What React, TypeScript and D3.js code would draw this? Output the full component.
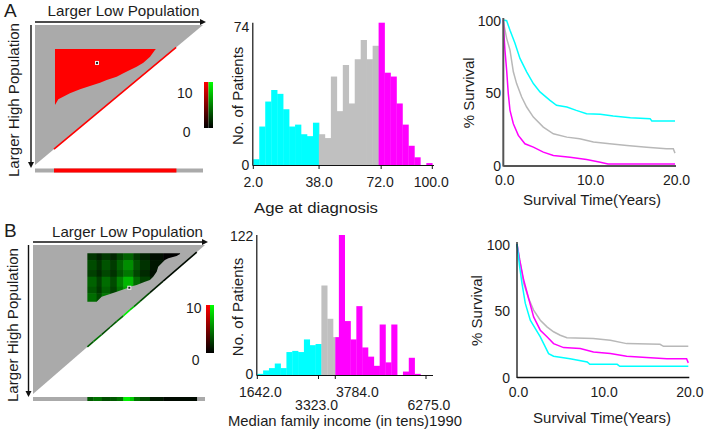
import React from 'react';
import * as d3 from 'd3';

// ---------------- DATA ----------------
const ageBinCounts = [3, 20, 33, 39, 37, 29, 20, 21, 16, 15, 22, 16, 14, 46, 28, 52, 32, 55, 65, 55, 62, 74, 48, 46, 32, 21, 10, 4, 0, 1];
const ageDomain: [number, number] = [2, 100];
const ageBinWidth = 98 / 30;
const ageColorCuts = [37.93, 70.6];
const ageTicks = [2, 38, 72, 100];
const ageTickLabels = ['2.0', '38.0', '72.0', '100.0'];
const ageYMax = 74;

const incomeBinCounts = [1, 4, 6, 10, 6, 20, 21, 20, 31, 26, 27, 78, 49, 33, 122, 47, 31, 60, 24, 16, 8, 44, 11, 44, 0, 3, 15, 1];
const incomeDomain: [number, number] = [1642, 6275];
const incomeBinWidth = 160;
const incomeColorCuts = [3402, 3784];
const incomeTicks = [1642, 3323, 3784, 6275];
const incomeTickLabels = ['1642.0', '3323.0', '3784.0', '6275.0'];
const incomeYMax = 122;

const survAgeCyan = [[0, 100], [0.39, 99.5], [0.78, 93], [1.36, 84], [1.94, 73.6], [2.72, 64.4], [3.5, 56.3], [4.27, 50.6], [5.44, 44.8], [6.2, 41.4], [7.4, 40.2], [8.5, 37.9], [9.7, 35.6], [11.3, 35.2], [12.8, 34], [14.8, 32.9], [17.1, 32.2], [17.3, 30.6], [20, 30.6]];
const survAgeGray = [[0, 100], [0.1, 96], [0.39, 87.4], [0.78, 79.3], [1.17, 64.4], [1.55, 56.3], [2.14, 47.1], [2.72, 40.2], [3.5, 33.3], [4.66, 26.4], [5.83, 21.8], [7.4, 19.5], [8.9, 18.4], [10.5, 16.1], [12.4, 14.9], [14.4, 13.8], [16.7, 12.6], [19.0, 11.5], [19.8, 11.5], [20, 8.5]];
const survAgeMag = [[0, 100], [0.1, 88], [0.19, 79.3], [0.39, 65.5], [0.58, 49.4], [0.78, 37.9], [1.17, 28.7], [1.75, 20.7], [2.52, 14.9], [3.5, 12.6], [4.66, 9.2], [5.83, 6.9], [7.77, 5.7], [9.7, 4.1], [11.3, 2.3], [12.2, 1.1], [20, 1.1]];

const survIncGray = [[0, 100], [0.39, 85.4], [0.78, 70.4], [1.36, 59], [1.94, 50.3], [2.72, 42.7], [3.5, 37.7], [4.27, 34], [5.05, 31.4], [5.83, 29.6], [8.9, 28.9], [10.9, 27.6], [12.8, 25.1], [16.7, 24.6], [17.1, 23.1], [20, 23.1]];
const survIncMag = [[0, 100], [0.31, 88], [0.78, 72.9], [1.36, 59], [1.94, 45.2], [2.72, 35.2], [3.5, 30.2], [4.27, 25.1], [5.44, 22.1], [7.38, 21.4], [8.93, 18.8], [10.9, 17.6], [12.8, 15.6], [15.1, 14.6], [17.5, 13.8], [19.8, 13.8], [20, 10.6]];
const survIncCyan = [[0, 100], [0.31, 82.9], [0.58, 70.4], [0.97, 55.3], [1.55, 42.7], [2.14, 36.4], [2.72, 30.2], [3.3, 22.6], [3.69, 17.6], [4.27, 15.6], [6.2, 13.8], [8.2, 11.3], [8.5, 9.5], [11.7, 9.5], [12.0, 8.0], [20, 8.0]];

const survTicksX = [0, 10, 20];
const survTickLabelsX = ['0.0', '10.0', '20.0'];
const survTicksY = [0, 50, 100];

// heatmap A: significant region (grid units 0..100)
const heatARegion = [[11.9, 17.1], [72.0, 17.1], [71.4, 17.9], [68.5, 22.6], [64.5, 26.9], [60.5, 29.8], [56.5, 32.1], [52.6, 34.5], [48.6, 36.9], [42.7, 39.3], [38.7, 41.2], [32.7, 43.6], [26.8, 45.9], [20.8, 48.8], [13.9, 53.1], [11.9, 57.1]];
const heatAStrip = [[11.3, 84, 1]]; // [from, to, value]
const heatADot = [36.9, 27.1];

// heatmap B
const heatBRegion = [[31.6, 5.6], [85.5, 5.6], [85.5, 6.0], [83.5, 7.4], [78.7, 8.9], [76.7, 10.1], [74.8, 12.3], [72.8, 14.6], [71.9, 17.9], [69.9, 21.3], [68.0, 23.5], [65.1, 24.6], [60.3, 26.8], [56.4, 28.0], [54.5, 29.1], [48.7, 31.3], [44.8, 32.9], [39.9, 34.7], [37.0, 38.1], [31.6, 38.1]];
const heatBColEdges = [31.6, 37.0, 39.9, 44.8, 48.7, 52.5, 58.3, 62.2, 68.0, 75.7, 85.5];
const heatBColValues = [0.45, 0.3, 0.5, 0.35, 0.6, 0.85, 0.5, 0.3, 0.12, 0.05];
const heatBRowEdges = [5.6, 10.1, 16.8, 21.3, 28.0, 32.4, 38.1];
const heatBRowValues = [0.45, 0.65, 0.55, 0.85, 0.75, 0.95];
const heatBStrip = [[31.6, 35.1, 0.35], [35.1, 39.9, 0.45], [39.9, 44.8, 0.3], [44.8, 48.7, 0.35], [48.7, 52.5, 0.45], [52.5, 56.4, 0.95], [56.4, 58.7, 0.8], [58.7, 62.2, 0.45], [62.2, 68.0, 0.3], [68.0, 75.7, 0.1], [75.7, 95.2, 0.04]];
const heatBDot = [56, 28.7];

// ---------------- STYLE ----------------
const FONT = "'Liberation Sans', Arial, Helvetica, sans-serif";
const TXT = '#1c1c1c';
const CYAN = '#00ffff';
const MAG = '#ff00ff';
const GRAYBAR = '#c0c0c0';
const GRAYLINE = '#b8b8b8';
const TRI = '#aaaaaa';
const groupColors = [CYAN, GRAYBAR, MAG];

type TP = { x: number; y: number; s?: number; a?: string; len?: number; rot?: boolean; children: any; fill?: string };
const T = ({ x, y, s = 14, a = 'start', len, rot = false, children, fill = TXT }: TP) => (
  <text
    x={rot ? 0 : x}
    y={rot ? 0 : y}
    transform={rot ? `translate(${x},${y}) rotate(-90)` : undefined}
    fontSize={s}
    textAnchor={a as any}
    fill={fill}
    fontFamily={FONT}
    {...(len ? { textLength: len, lengthAdjust: 'spacingAndGlyphs' } : {})}
  >
    {children}
  </text>
);

// ---------------- HEATMAP PANEL ----------------
function Heatmap(props: any) {
  const { id, box, arrowY, arrowX, stripY, region, plaid, strip, stripColor, dot, bar, lab, letter, titleX, titleY, titleLen, sideX, sideY } = props;
  const xg = d3.scaleLinear().domain([0, 100]).range([box.x0, box.x1]);
  const yg = d3.scaleLinear().domain([0, 100]).range([box.y0, box.y1]);
  const poly = d3.line().x((d: any) => xg(d[0])).y((d: any) => yg(d[1]))(region as any) + 'Z';
  const green = d3.interpolateRgb('#000000', '#00ff00');
  return (
    <g>
      <defs>
        <clipPath id={`clip${id}`}>
          <path d={poly} />
        </clipPath>
        <filter id={`blur${id}`} x="-10%" y="-10%" width="120%" height="120%">
          <feGaussianBlur stdDeviation="0.7" />
        </filter>
      </defs>
      <T x={4} y={letter.y} s={19}>{letter.t}</T>
      <T x={titleX} y={titleY} s={15} a="middle" len={titleLen}>Larger Low Population</T>
      <T x={sideX} y={sideY} s={15} a="middle" rot len={154}>Larger High Population</T>
      {/* arrows */}
      <line x1={box.x0} x2={box.x1 + 1} y1={arrowY} y2={arrowY} stroke="#111" strokeWidth={1.4} />
      <path d={`M${box.x1 + 3},${arrowY} l-6,-3 l0,6 Z`} fill="#111" />
      <line x1={arrowX} x2={arrowX} y1={box.y0} y2={box.y1 + 1} stroke="#111" strokeWidth={1.4} />
      <path d={`M${arrowX},${box.y1 + 3} l-3,-6 l6,0 Z`} fill="#111" />
      {/* triangle */}
      <path d={`M${box.x0},${box.y0}L${box.x1},${box.y0}L${box.x0},${box.y1}Z`} fill={TRI} />
      {plaid ? (
        <g clipPath={`url(#clip${id})`}>
          <g filter={`url(#blur${id})`}>
            {plaid.cols.slice(0, -1).map((c0: number, i: number) =>
              plaid.rows.slice(0, -1).map((r0: number, j: number) => {
                const c1 = plaid.cols[i + 1];
                const r1 = plaid.rows[j + 1];
                const cx0 = i === 0 ? c0 - 4 : c0;
                const cx1 = i === plaid.cols.length - 2 ? c1 + 4 : c1;
                const ry0 = j === 0 ? r0 - 4 : r0;
                const ry1 = j === plaid.rows.length - 2 ? r1 + 4 : r1;
                return (
                  <rect key={`${i}-${j}`} x={xg(cx0)} y={yg(ry0)} width={xg(cx1) - xg(cx0) + 0.5} height={yg(ry1) - yg(ry0) + 0.5}
                    fill={green(plaid.cv[i] * plaid.rv[j])} />
                );
              })
            )}
          </g>
        </g>
      ) : (
        <path d={poly} fill="#ff0000" />
      )}
      {/* diagonal */}
      {strip.map((s: number[], i: number) => (
        <line key={i} x1={xg(s[0])} y1={yg(100 - s[0])} x2={xg(s[1])} y2={yg(100 - s[1])}
          stroke={stripColor(s[2])} strokeWidth={1.6} />
      ))}
      {/* dot */}
      <rect x={xg(dot[0]) - 2} y={yg(dot[1]) - 2} width={4} height={4} fill="#eeeeee" />
      <rect x={xg(dot[0]) - 1} y={yg(dot[1]) - 1} width={2} height={2} fill="#222" />
      {/* strip */}
      <rect x={box.x0} y={stripY} width={box.x1 - box.x0} height={4} fill={TRI} />
      {strip.map((s: number[], i: number) => (
        <rect key={i} x={xg(s[0])} y={stripY} width={xg(s[1]) - xg(s[0]) + 0.3} height={4} fill={stripColor(s[2])} />
      ))}
      {/* colorbar */}
      <rect x={bar.x} y={bar.y} width={bar.w / 2} height={bar.h} fill={`url(#gRed)`} />
      <rect x={bar.x + bar.w / 2} y={bar.y} width={bar.w / 2} height={bar.h} fill={`url(#gGreen)`} />
      <T x={lab.x} y={lab.y10} s={14} a="end">10</T>
      <T x={lab.x - 2} y={lab.y0} s={14} a="end">0</T>
    </g>
  );
}

// ---------------- HISTOGRAM ----------------
function Histogram(props: any) {
  const { counts, domain, binWidth, cuts, yMax, xr, yr, ticks, tickLabels, labelPos, yLabY, title, titleX, titleY, titleLen, axisEnd } = props;
  const xs = d3.scaleLinear().domain(domain).range(xr);
  const ys = d3.scaleLinear().domain([0, yMax]).range(yr);
  const bounds = [domain[0], ...cuts, Infinity];
  const rects: any[] = [];
  counts.forEach((c: number, i: number) => {
    const a = domain[0] + i * binWidth;
    const b = a + binWidth;
    for (let g = 0; g < 3; g++) {
      const lo = Math.max(a, bounds[g]);
      const hi = Math.min(b, bounds[g + 1]);
      if (hi > lo && c > 0) {
        rects.push(<rect key={`${i}-${g}`} x={xs(lo)} y={ys(c)} width={xs(hi) - xs(lo) + 0.3} height={ys(0) - ys(c)} fill={groupColors[g]} />);
      }
    }
  });
  return (
    <g>
      {rects}
      <line x1={xr[0] - 0.5} x2={xr[0] - 0.5} y1={yr[1]} y2={yr[0] + 0.5} stroke="#111" strokeWidth={1.2} />
      <line x1={xr[0] - 0.5} x2={axisEnd} y1={yr[0] + 0.5} y2={yr[0] + 0.5} stroke="#111" strokeWidth={1.2} />
      {ticks.map((t: number, i: number) => (
        <line key={i} x1={xs(t)} x2={xs(t)} y1={yr[0]} y2={yr[0] + 4} stroke="#111" strokeWidth={1} />
      ))}
      {ticks.map((t: number, i: number) => (
        <T key={i} x={xs(t) + labelPos[i][0]} y={labelPos[i][1]} s={14} a="middle">{tickLabels[i]}</T>
      ))}
      <T x={xr[0] - 4} y={yLabY[0]} s={14} a="end">{String(yMax)}</T>
      <T x={xr[0] - 4} y={yLabY[1]} s={14} a="end">0</T>
      <T x={243} y={(yr[0] + yr[1]) / 2 + 2} s={15} a="middle" rot>No. of Patients</T>
      <T x={titleX} y={titleY} s={15} a="middle" len={titleLen}>{title}</T>
    </g>
  );
}

// ---------------- SURVIVAL ----------------
function Survival(props: any) {
  const { series, xr, yr, axisColor, axisW, yLabX, xLabY, titleX, titleY, sideX } = props;
  const xs = d3.scaleLinear().domain([0, 20]).range(xr);
  const ys = d3.scaleLinear().domain([0, 100]).range(yr);
  const line = d3.line().x((d: any) => xs(d[0])).y((d: any) => ys(d[1])).curve(d3.curveLinear);
  return (
    <g>
      {series.map((s: any, i: number) => (
        <path key={i} d={line(s.data as any) as string} fill="none" stroke={s.color} strokeWidth={1.5} />
      ))}
      <line x1={xr[0]} x2={xr[0]} y1={yr[1] - 2} y2={yr[0] + 1} stroke={axisColor} strokeWidth={axisW} />
      <line x1={xr[0]} x2={xr[1] + 1} y1={yr[0] + 0.5} y2={yr[0] + 0.5} stroke={axisColor} strokeWidth={axisW} />
      {survTicksY.map((t, i) => (
        <T key={i} x={yLabX} y={ys(t) + 5.5} s={14} a="end">{String(t)}</T>
      ))}
      {survTicksX.map((t, i) => (
        <T key={i} x={xs(t) + 1.5} y={xLabY} s={14} a="middle">{survTickLabelsX[i]}</T>
      ))}
      <T x={titleX} y={titleY} s={15} a="middle">Survival Time(Years)</T>
      <T x={sideX} y={(yr[0] + yr[1]) / 2} s={15} a="middle" rot>% Survival</T>
    </g>
  );
}

export default function App() {
  const green = d3.interpolateRgb('#000000', '#00ff00');
  return (
    <svg width={706} height={436} style={{ position: 'absolute', left: 0, top: 0, background: '#fff' }}>
      <defs>
        <linearGradient id="gRed" x1="0" y1="0" x2="0" y2="1">
          <stop offset="0" stopColor="#ff0000" />
          <stop offset="1" stopColor="#000000" />
        </linearGradient>
        <linearGradient id="gGreen" x1="0" y1="0" x2="0" y2="1">
          <stop offset="0" stopColor="#00ff00" />
          <stop offset="1" stopColor="#000000" />
        </linearGradient>
      </defs>
      <rect width={706} height={436} fill="#fff" />

      <Heatmap id="A" box={{ x0: 35, x1: 203, y0: 25, y1: 165 }} arrowY={22} arrowX={31} stripY={168.5}
        region={heatARegion} strip={heatAStrip} stripColor={() => '#ff0000'} dot={heatADot}
        bar={{ x: 204, y: 82, w: 9, h: 46 }} lab={{ x: 192.5, y10: 98, y0: 137 }}
        letter={{ t: 'A', y: 17 }} titleX={123.5} titleY={16} titleLen={152} sideX={19} sideY={100} />

      <Heatmap id="B" box={{ x0: 33, x1: 205, y0: 245, y1: 394 }} arrowY={242} arrowX={28.5} stripY={397}
        region={heatBRegion} plaid={{ cols: heatBColEdges, rows: heatBRowEdges, cv: heatBColValues, rv: heatBRowValues }}
        strip={heatBStrip} stripColor={(v: number) => green(v)} dot={heatBDot}
        bar={{ x: 206, y: 305, w: 8, h: 48 }} lab={{ x: 201.5, y10: 313, y0: 365 }}
        letter={{ t: 'B', y: 237 }} titleX={127.5} titleY={237} titleLen={151} sideX={18} sideY={325} />

      <Histogram counts={ageBinCounts} domain={ageDomain} binWidth={ageBinWidth} cuts={ageColorCuts} yMax={ageYMax}
        xr={[253.3, 432.3]} yr={[165, 22.7]} ticks={ageTicks} tickLabels={ageTickLabels}
        labelPos={[[0, 187], [0, 187], [-1, 187], [-1, 187]]} yLabY={[32, 170]}
        title="Age at diagnosis" titleX={316} titleY={213} titleLen={124} axisEnd={434} />

      <Histogram counts={incomeBinCounts} domain={incomeDomain} binWidth={incomeBinWidth} cuts={incomeColorCuts} yMax={incomeYMax}
        xr={[257.3, 426]} yr={[375, 235]} ticks={incomeTicks} tickLabels={incomeTickLabels}
        labelPos={[[3, 397], [-2, 410], [22, 397], [3, 410]]} yLabY={[241, 379]}
        title="Median family income (in tens)1990" titleX={345} titleY={426} titleLen={234} axisEnd={433} />

      <Survival series={[{ data: survAgeCyan, color: CYAN }, { data: survAgeGray, color: GRAYLINE }, { data: survAgeMag, color: MAG }]}
        xr={[503.3, 675]} yr={[165.5, 20]} axisColor="#555" axisW={2} yLabX={501} xLabY={185}
        titleX={592} titleY={205} sideX={474} />

      <Survival series={[{ data: survIncGray, color: GRAYLINE }, { data: survIncMag, color: MAG }, { data: survIncCyan, color: CYAN }]}
        xr={[517, 688.3]} yr={[377, 244]} axisColor="#111" axisW={1.3} yLabX={510} xLabY={397}
        titleX={602} titleY={423} sideX={482} />
    </svg>
  );
}
